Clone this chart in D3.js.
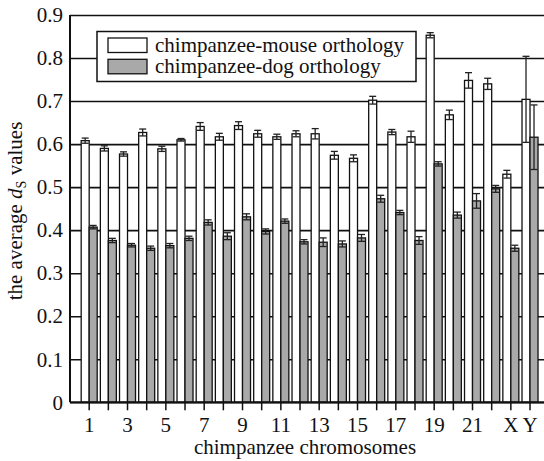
<!DOCTYPE html>
<html>
<head>
<meta charset="utf-8">
<script src="https://cdn.jsdelivr.net/npm/d3@7"></script>
<style>
  body { margin: 0; background: #fff; }
  svg { display: block; }
  text { font-family: "Liberation Serif", "Times New Roman", serif; fill: #111; }
</style>
</head>
<body>
<svg id="chart" width="544" height="461"></svg>
<script>
// Chromosomes and the average dS values of each orthology set
const chromosomes = ["1","2","3","4","5","6","7","8","9","10","11","12","13","14","15","16","17","18","19","20","21","22","X","Y"];
const tickLabels = ["1","3","5","7","9","11","13","15","17","19","21","X","Y"];
const seriesNames = ["chimpanzee-mouse orthology", "chimpanzee-dog orthology"];
const mouseDs  = [0.608,0.590,0.577,0.627,0.589,0.610,0.641,0.617,0.643,0.624,0.617,0.624,0.624,0.574,0.567,0.702,0.628,0.617,0.853,0.668,0.748,0.740,0.530,0.704];
const mouseErr = [0.006,0.006,0.005,0.008,0.006,0.003,0.009,0.008,0.009,0.008,0.006,0.007,0.012,0.009,0.008,0.009,0.006,0.013,0.006,0.011,0.018,0.013,0.009,0.100];
const dogDs    = [0.407,0.376,0.365,0.358,0.364,0.381,0.418,0.386,0.431,0.397,0.421,0.373,0.372,0.368,0.382,0.473,0.441,0.376,0.554,0.435,0.468,0.496,0.358,0.616];
const dogErr   = [0.004,0.005,0.004,0.005,0.005,0.005,0.006,0.008,0.007,0.006,0.005,0.005,0.010,0.007,0.008,0.008,0.005,0.009,0.005,0.007,0.017,0.008,0.007,0.075];
const yTicks = [0,0.1,0.2,0.3,0.4,0.5,0.6,0.7,0.8,0.9];

const svg = d3.select("#chart");
const plotLeft = 70, plotTop = 15, plotBottom = 402.3, plotRight = 549;
const fills = ["#ffffff", "#a9a9a9"];

const x = d3.scaleBand().domain(chromosomes).range([79.6, 539.6]).padding(0);
const inner = d3.scaleBand().domain(["mouse", "dog"])
  .range([x.bandwidth() / 2 - 8, x.bandwidth() / 2 + 8]).padding(0);
const y = d3.scaleLinear().domain([0, 0.9]).range([plotBottom, plotTop]);

// horizontal grid lines with the value labels
const yAxis = svg.append("g").attr("transform", `translate(${plotLeft},0)`)
  .call(d3.axisLeft(y).tickValues(yTicks).tickSize(-(plotRight - plotLeft)).tickPadding(7)
    .tickFormat(d => d === 0 ? "0" : d.toFixed(1)));
yAxis.select(".domain").remove();
yAxis.selectAll(".tick line").attr("stroke", "#111").attr("stroke-width", 1.6);
yAxis.selectAll(".tick text").attr("font-size", 21).attr("fill", "#111")
  .style("font-family", '"Liberation Serif", serif');

const rows = chromosomes.map((c, i) => ({
  c,
  values: [
    { key: "mouse", v: mouseDs[i], e: mouseErr[i], fill: fills[0] },
    { key: "dog", v: dogDs[i], e: dogErr[i], fill: fills[1] }
  ]
}));

const groups = svg.append("g").selectAll("g").data(rows).join("g")
  .attr("transform", d => `translate(${x(d.c)},0)`);

groups.selectAll("rect").data(d => d.values).join("rect")
  .attr("x", d => inner(d.key))
  .attr("width", inner.bandwidth())
  .attr("y", d => y(d.v))
  .attr("height", d => y(0) - y(d.v))
  .attr("fill", d => d.fill)
  .attr("stroke", "#111")
  .attr("stroke-width", 1.3);

// error bars
const eb = groups.selectAll("g.err").data(d => d.values).join("g").attr("class", "err")
  .attr("stroke", "#222").attr("stroke-width", 1.3);
const cx = d => inner(d.key) + inner.bandwidth() / 2;
eb.append("line").attr("x1", cx).attr("x2", cx)
  .attr("y1", d => y(d.v + d.e)).attr("y2", d => y(d.v - d.e));
eb.append("line").attr("x1", d => cx(d) - 3.5).attr("x2", d => cx(d) + 3.5)
  .attr("y1", d => y(d.v + d.e)).attr("y2", d => y(d.v + d.e));
eb.append("line").attr("x1", d => cx(d) - 3.5).attr("x2", d => cx(d) + 3.5)
  .attr("y1", d => y(d.v - d.e)).attr("y2", d => y(d.v - d.e));

// category axis
const xAxis = svg.append("g").attr("transform", `translate(0,${plotBottom})`)
  .call(d3.axisBottom(x).tickValues(chromosomes).tickSize(8).tickPadding(7)
    .tickFormat(d => tickLabels.includes(d) ? d : ""));
xAxis.select(".domain").remove();
xAxis.selectAll(".tick line").attr("stroke", "#111").attr("stroke-width", 1.5);
xAxis.selectAll(".tick text").attr("font-size", 21).attr("fill", "#111")
  .style("font-family", '"Liberation Serif", serif');

// frame: bottom and left axis lines
svg.append("line").attr("x1", plotLeft).attr("x2", plotRight).attr("y1", plotBottom).attr("y2", plotBottom)
  .attr("stroke", "#111").attr("stroke-width", 2);
svg.append("line").attr("x1", plotLeft).attr("x2", plotLeft).attr("y1", plotTop).attr("y2", plotBottom)
  .attr("stroke", "#111").attr("stroke-width", 2);

// legend
const lg = svg.append("g");
lg.append("rect").attr("x", 97).attr("y", 31.5).attr("width", 319).attr("height", 50)
  .attr("fill", "#fff").attr("stroke", "#111").attr("stroke-width", 1.5);
seriesNames.forEach((name, i) => {
  lg.append("rect").attr("x", 108).attr("y", 38 + i * 21.3).attr("width", 39).attr("height", 14.5)
    .attr("fill", fills[i]).attr("stroke", "#111").attr("stroke-width", 1.3);
  lg.append("text").attr("x", 155).attr("y", 51.7 + i * 21).attr("font-size", 21).text(name);
});

// axis titles
svg.append("text").attr("x", 305).attr("y", 454).attr("text-anchor", "middle")
  .attr("font-size", 21).text("chimpanzee chromosomes");
const yt = svg.append("text").attr("transform", "translate(22,211) rotate(-90)")
  .attr("text-anchor", "middle").attr("font-size", 21);
yt.append("tspan").text("the average ");
yt.append("tspan").attr("font-style", "italic").text("d");
yt.append("tspan").attr("font-size", 14).attr("dy", 4).text("S");
yt.append("tspan").attr("dy", -4).text(" values");
</script>
</body>
</html>
